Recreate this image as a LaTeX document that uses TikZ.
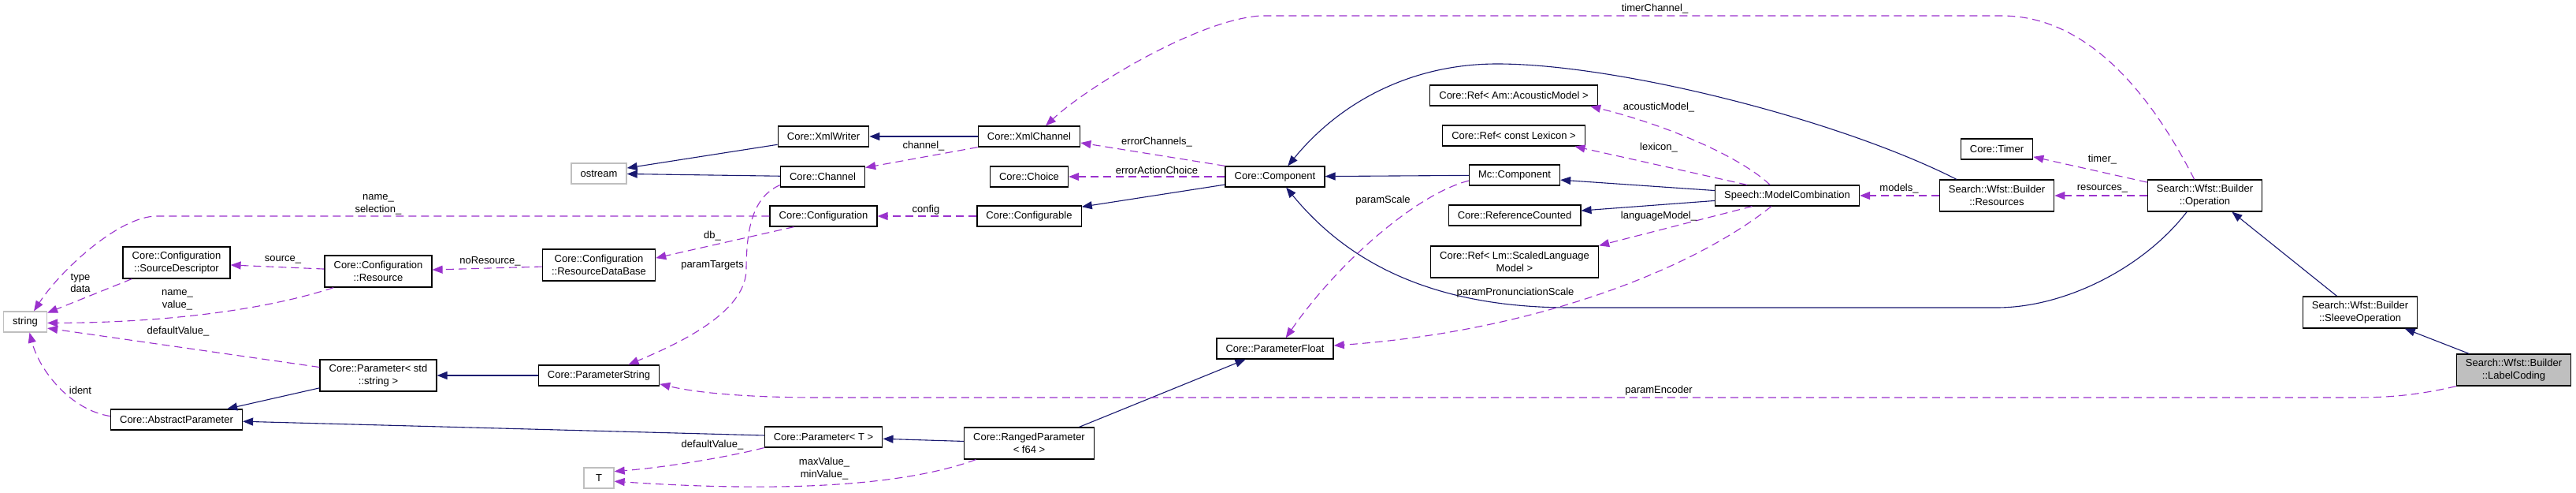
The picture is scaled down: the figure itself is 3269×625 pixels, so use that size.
\documentclass[tikz,border=0pt]{standalone}
\usepackage{fontspec}
\setmainfont{Liberation Sans}
\usetikzlibrary{arrows.meta}
\definecolor{Navy}{HTML}{191970}
\definecolor{Orchid}{HTML}{9A32CD}
\definecolor{Frame}{HTML}{BFBFBF}

\begin{document}
\begin{tikzpicture}[x=0.5pt,y=-0.5pt,
  font=\fontsize{6.5pt}{7.8pt}\selectfont,
  cls/.style={draw=black,line width=0.65pt,fill=white,inner xsep=5.8pt,inner ysep=2pt,minimum height=13pt},
  cls2/.style={cls,align=center,minimum height=20pt},
  ext/.style={cls,draw=Frame},
  inherit/.style={Navy,line width=0.55pt,-{Triangle[length=6.5pt,width=5pt]}},
  member/.style={Orchid,line width=0.55pt,dash pattern=on 5pt off 3pt,-{Triangle[length=6.5pt,width=5pt]}},
  lbl/.style={align=center,inner sep=0pt}]
  \path[use as bounding box,fill=white] (0,0) rectangle (3269,625);

  \node[ext] (ostream) at (760,220) {ostream};
  \node[ext] (string) at (32,408) {string};
  \node[ext,minimum width=19pt] (T) at (760,606) {T};
  \node[cls2] (srcdesc) at (224,333) {Core::Configuration\\::SourceDescriptor};
  \node[cls2] (resource) at (480,344) {Core::Configuration\\::Resource};
  \node[cls2] (resdb) at (760,336) {Core::Configuration\\::ResourceDataBase};
  \node[cls2] (paramstd) at (480,476) {Core::Parameter< std\\::string >};
  \node[cls] (absparam) at (224,532) {Core::AbstractParameter};
  \node[cls] (paramstring) at (760,476) {Core::ParameterString};
  \node[cls] (xmlwriter) at (1045,173) {Core::XmlWriter};
  \node[cls] (channel) at (1044,224) {Core::Channel};
  \node[cls] (config) at (1045,274) {Core::Configuration};
  \node[cls] (paramT) at (1045,554) {Core::Parameter< T >};
  \node[cls] (xmlchannel) at (1306,173) {Core::XmlChannel};
  \node[cls] (choice) at (1306,224) {Core::Choice};
  \node[cls] (configurable) at (1306,274) {Core::Configurable};
  \node[cls2] (ranged) at (1306,562) {Core::RangedParameter\\< f64 >};
  \node[cls] (component) at (1618,224) {Core::Component};
  \node[cls] (paramfloat) at (1618,442) {Core::ParameterFloat};
  \node[cls] (refam) at (1921,121) {Core::Ref< Am::AcousticModel >};
  \node[cls] (reflex) at (1921,172) {Core::Ref< const Lexicon >};
  \node[cls] (mccomp) at (1922,222) {Mc::Component};
  \node[cls] (refcount) at (1922,273) {Core::ReferenceCounted};
  \node[cls2] (reflm) at (1922,332) {Core::Ref< Lm::ScaledLanguage\\Model >};
  \node[cls] (modelcomb) at (2268,248) {Speech::ModelCombination};
  \node[cls] (timer) at (2534,189) {Core::Timer};
  \node[cls2] (resources) at (2534,248) {Search::Wfst::Builder\\::Resources};
  \node[cls2] (operation) at (2798,248) {Search::Wfst::Builder\\::Operation};
  \node[cls2] (sleeve) at (2995,396) {Search::Wfst::Builder\\::SleeveOperation};
  \node[cls2,fill=Frame] (labelcoding) at (3190,469) {Search::Wfst::Builder\\::LabelCoding};

  \draw[inherit] (xmlwriter.190) -- (ostream.11);
  \draw[inherit] (channel) -- (ostream);
  \draw[inherit] (xmlchannel) -- (xmlwriter);
  \draw[inherit] (component.189) -- (configurable.10);
  \draw[inherit] (mccomp) -- (component);
  \draw[inherit] (modelcomb.176) -- (mccomp.-6);
  \draw[inherit] (modelcomb.184) -- (refcount.4);
  \draw[inherit] (resources.158) .. controls (2330,150) and (2050,81) .. (1900,81) .. controls (1790,81) and (1700,130) .. (component.40);
  \draw[inherit] (operation.222) .. controls (2720,340) and (2620,390) .. (2534,390) -- (1992,390) .. controls (1800,390) and (1700,320) .. (component.-44);
  \draw[inherit] (ranged.18) -- (paramfloat.200);
  \draw[inherit] (ranged) -- (paramT);
  \draw[inherit] (paramT) -- (absparam);
  \draw[inherit] (paramstd.192) -- (absparam.12);
  \draw[inherit] (paramstring) -- (paramstd);
  \draw[inherit] (sleeve.145) -- (operation.-31);
  \draw[inherit] (labelcoding.160) -- (sleeve.-20);

  \draw[member] (component.north west) -- (xmlchannel.-7);
  \draw[member] (component) -- (choice);
  \draw[member] (configurable) -- (config);
  \draw[member] (xmlchannel.south west) -- (channel.12);
  \draw[member] (config.200) -- (resdb.7);
  \draw[member] (channel.191) .. controls (955,250) and (947,290) .. (947,343) .. controls (945,400) and (850,440) .. (paramstring.20);
  \draw[member] (config.west) -- (199,274) .. controls (150,274) and (75,345) .. (string.51);
  \draw[member] (resource) -- (srcdesc);
  \draw[member] (resdb) -- (resource);
  \draw[member] (srcdesc.200) -- (string.22);
  \draw[member] (resource.200) .. controls (330,395) and (200,409) .. (string.-3);
  \draw[member] (paramstd.172) -- (string.-16);
  \draw[member] (absparam.177) .. controls (90,520) and (50,470) .. (string.-68);
  \draw[member] (paramT.south west) .. controls (930,578) and (850,592) .. (T.23);
  \draw[member] (ranged.197) .. controls (1150,615) and (1000,625) .. (T.-12);
  \draw[member] (labelcoding.south west) .. controls (3060,503) and (3020,504) .. (2985,504) -- (1041,504) .. controls (940,504) and (880,497) .. (paramstring.-8);
  \draw[member] (mccomp.187) .. controls (1800,245) and (1700,330) .. (paramfloat.45);
  \draw[member] (modelcomb.214) .. controls (2150,340) and (1950,420) .. (paramfloat.3);
  \draw[member] (modelcomb.148) .. controls (2210,200) and (2120,160) .. (refam.-8);
  \draw[member] (modelcomb.165) -- (reflex.-10);
  \draw[member] (modelcomb.197) -- (reflm.north east);
  \draw[member] (resources) -- (modelcomb);
  \draw[member] (operation) -- (resources);
  \draw[member] (operation.167) -- (timer.-12);
  \draw[member] (operation.123) .. controls (2740,140) and (2660,20) .. (2540,20) -- (1600,20) .. controls (1520,25) and (1380,110) .. (xmlchannel.33);

  \node[lbl] (lerrchan) at (1468,180) {errorChannels\_};
  \node[lbl] (lerrchoice) at (1468,216) {errorActionChoice};
  \node[lbl] (lconfig) at (1175,266) {config};
  \node[lbl] (lchannel) at (1172,185) {channel\_};
  \node[lbl] (ldb) at (904,299) {db\_};
  \node[lbl] (ltargets) at (904,336) {paramTargets};
  \node[lbl] (lselect) at (480,259) {name\_\\selection\_};
  \node[lbl] (lsource) at (359,329) {source\_};
  \node[lbl] (lnores) at (622,331) {noResource\_};
  \node[lbl] (ltype) at (102,359) {type\\data};
  \node[lbl] (lvalue) at (225,380) {name\_\\value\_};
  \node[lbl] (ldefstr) at (226,420) {defaultValue\_};
  \node[lbl] (lident) at (102,495) {ident};
  \node[lbl] (ldefT) at (904,564) {defaultValue\_};
  \node[lbl] (lminmax) at (1046,594) {maxValue\_\\minValue\_};
  \node[lbl] (lencoder) at (2105,495) {paramEncoder};
  \node[lbl] (lscale) at (1755,254) {paramScale};
  \node[lbl] (lpron) at (1923,371) {paramPronunciationScale};
  \node[lbl] (lacoustic) at (2105,136) {acousticModel\_};
  \node[lbl] (llexicon) at (2105,187) {lexicon\_};
  \node[lbl] (llangmodel) at (2105,274) {languageModel\_};
  \node[lbl] (lmodels) at (2410,239) {models\_};
  \node[lbl] (lresources) at (2668,239) {resources\_};
  \node[lbl] (ltimer) at (2668,202) {timer\_};
  \node[lbl] (ltimerchan) at (2100,11) {timerChannel\_};
\end{tikzpicture}
\end{document}
